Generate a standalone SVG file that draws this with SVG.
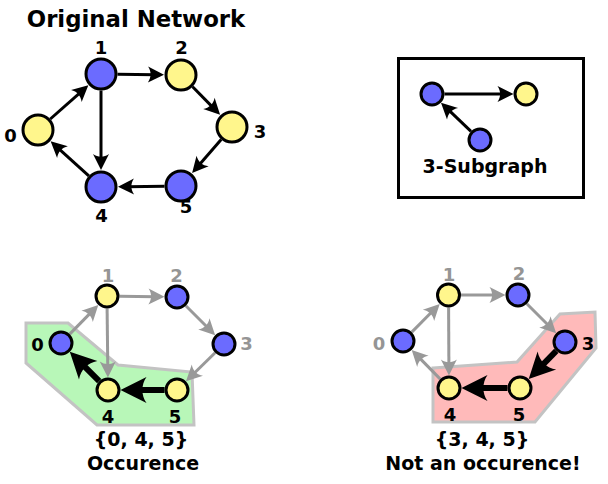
<svg xmlns="http://www.w3.org/2000/svg" width="608" height="484" viewBox="0 0 608 484">
<style>
text{font-family:"DejaVu Sans","Liberation Sans",sans-serif;font-weight:bold;text-anchor:middle;fill:#000}
.lbl{font-size:18px}
.glbl{font-size:18px;fill:#959595}
.big{font-size:19px}
.blue{fill:#6b6bff;stroke:#000;stroke-width:3}
.yel{fill:#fff68c;stroke:#000;stroke-width:3}
.e{fill:none;stroke:#000;stroke-width:3;marker-end:url(#ah)}
.g{fill:none;stroke:#999;stroke-width:3;marker-end:url(#ahg)}
.t{fill:none;stroke:#000;stroke-width:6;marker-end:url(#aht)}
.hull{stroke:#c3c3c3;stroke-width:3;stroke-linejoin:miter}
</style>
<defs>
<marker id="ah" markerUnits="userSpaceOnUse" orient="auto" overflow="visible" markerWidth="1" markerHeight="1" refX="0" refY="0">
<path d="M9,0 L-7,-8 C-3.5,-3 -3.5,3 -7,8 Z" fill="#000"/>
</marker>
<marker id="ahg" markerUnits="userSpaceOnUse" orient="auto" overflow="visible" markerWidth="1" markerHeight="1" refX="0" refY="0">
<path d="M9,0 L-7,-8 C-3.5,-3 -3.5,3 -7,8 Z" fill="#999"/>
</marker>
<marker id="aht" markerUnits="userSpaceOnUse" orient="auto" overflow="visible" markerWidth="1" markerHeight="1" refX="0" refY="0">
<path d="M14,0 L-12,-13 C-6.5,-5 -6.5,5 -12,13 Z" fill="#000"/>
</marker>
</defs>

<text x="136" y="27" style="font-size:22.8px">Original Network</text>

<!-- top graph connectors -->
<g id="top-edges">
<path class="e" d="M50.3,119 L81.6,91.3"/>
<path class="e" d="M117.5,74.2 L155,74.7"/>
<path class="e" d="M192.6,86.8 L213.8,108.4"/>
<path class="e" d="M221.2,139.5 L198,166.3"/>
<path class="e" d="M164.5,186.2 L127,186.7"/>
<path class="e" d="M88.8,175.9 L57.3,147.4"/>
<path class="e" d="M101,90.5 L101,161"/>
</g>
<g id="t0"><circle class="yel" cx="38" cy="130" r="15"/><text class="lbl" x="10.5" y="142">0</text></g>
<g id="t1"><circle class="blue" cx="101" cy="74" r="15"/><text class="lbl" x="101" y="54">1</text></g>
<g id="t2"><circle class="yel" cx="181" cy="75" r="15"/><text class="lbl" x="181.5" y="54">2</text></g>
<g id="t3"><circle class="yel" cx="232" cy="127" r="15"/><text class="lbl" x="260" y="138">3</text></g>
<g id="t4"><circle class="blue" cx="101" cy="187" r="15"/><text class="lbl" x="101.5" y="222">4</text></g>
<g id="t5"><circle class="blue" cx="181" cy="186" r="15"/><text class="lbl" x="186" y="213">5</text></g>

<!-- subgraph box -->
<g id="subgraph">
<rect x="398.5" y="58.5" width="185" height="139" fill="#fff" stroke="#000" stroke-width="3"/>
<g id="sub-edges">
<path class="e" d="M444.5,94 L504.5,94"/>
<path class="e" d="M471,131.4 L447.5,108.9"/>
</g>
<g id="sA"><circle class="blue" cx="432" cy="94" r="11"/></g>
<g id="sB"><circle class="yel" cx="526" cy="94" r="11"/></g>
<g id="sC"><circle class="blue" cx="480" cy="140" r="11"/></g>
<text class="big" x="485" y="173">3-Subgraph</text>
</g>

<!-- bottom-left: occurrence -->
<polygon id="hull-green" class="hull" fill="#b8f7b8" points="26,323 68,323 118,365 192,372 194,425 97,425 26,363"/>
<g id="bl-edges">
<path class="g" d="M69.7,334.1 L92,311.4"/>
<path class="g" d="M119.5,296.2 L155.5,296.7"/>
<path class="g" d="M185.8,305.8 L208.8,328.8"/>
<path class="g" d="M215.1,352.7 L192.4,375"/>
<path class="g" d="M107.1,308.5 L107.8,368.5"/>
<path class="t" d="M164.5,390 L134.5,390"/>
<path class="t" d="M99.2,381.2 L79.7,361.7"/>
</g>
<g id="bl0"><circle class="blue" cx="61" cy="343" r="11"/><text class="lbl" x="37.5" y="351">0</text></g>
<g id="bl1"><circle class="yel" cx="107" cy="296" r="11"/><text class="glbl" x="108" y="282">1</text></g>
<g id="bl2"><circle class="blue" cx="177" cy="297" r="11"/><text class="glbl" x="176.5" y="282">2</text></g>
<g id="bl3"><circle class="blue" cx="224" cy="344" r="11"/><text class="glbl" x="246.5" y="350">3</text></g>
<g id="bl4"><circle class="yel" cx="108" cy="390" r="11"/><text class="lbl" x="108" y="423">4</text></g>
<g id="bl5"><circle class="yel" cx="177" cy="390" r="11"/><text class="lbl" x="175" y="423">5</text></g>
<text class="big" x="141" y="446">{0, 4, 5}</text>
<text class="big" x="143" y="470">Occurence</text>

<!-- bottom-right: not an occurrence -->
<polygon id="hull-red" class="hull" fill="#ffbaba" points="433,368 517,362 560,314 595,312 596,348 535,422 433,422"/>
<g id="br-edges">
<path class="g" d="M411.8,332.1 L433.4,310.3"/>
<path class="g" d="M461,295 L496.5,295"/>
<path class="g" d="M526.8,303.8 L549.8,326.8"/>
<path class="g" d="M440.3,379.1 L418,356.4"/>
<path class="g" d="M448.6,307.5 L448.9,366.5"/>
<path class="t" d="M556.3,350.9 L538.5,369.1"/>
<path class="t" d="M507.5,388 L475.5,388"/>
</g>
<g id="br0"><circle class="blue" cx="403" cy="341" r="11"/><text class="glbl" x="379" y="350">0</text></g>
<g id="br1"><circle class="yel" cx="448.5" cy="295" r="11"/><text class="glbl" x="449" y="281">1</text></g>
<g id="br2"><circle class="blue" cx="518" cy="295" r="11"/><text class="glbl" x="519" y="280">2</text></g>
<g id="br3"><circle class="blue" cx="565" cy="342" r="11"/><text class="lbl" x="588" y="350">3</text></g>
<g id="br4"><circle class="yel" cx="449" cy="388" r="11"/><text class="lbl" x="450" y="421">4</text></g>
<g id="br5"><circle class="yel" cx="520" cy="388" r="11"/><text class="lbl" x="519" y="421">5</text></g>
<text class="big" x="482" y="446">{3, 4, 5}</text>
<text class="big" x="483" y="470">Not an occurence!</text>
</svg>
